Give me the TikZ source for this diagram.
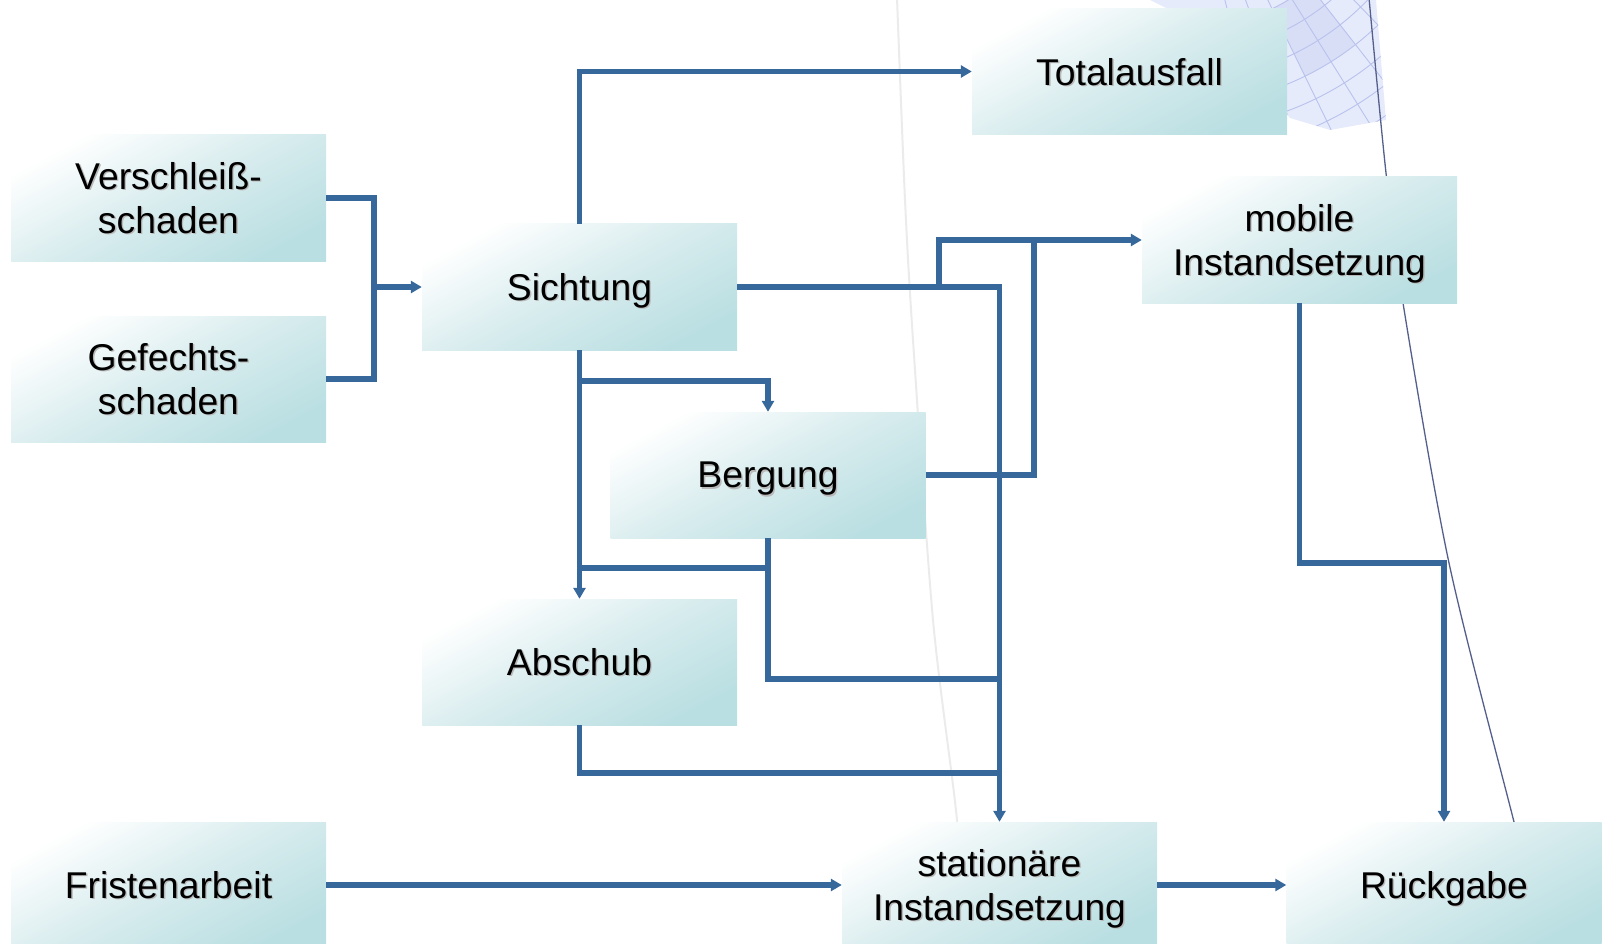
\documentclass[tikz,border=0pt]{standalone}
\usepackage{fontspec}
\setmainfont{Liberation Sans}
\usetikzlibrary{arrows.meta}

\definecolor{flowblue}{RGB}{54,104,155}
\definecolor{boxteal}{RGB}{186,223,226}
\definecolor{boxmid}{RGB}{216,236,238}
\definecolor{txtshadow}{RGB}{185,185,185}
\definecolor{rimline}{RGB}{85,95,140}
\definecolor{domefill}{RGB}{230,235,251}
\definecolor{domeline}{RGB}{184,194,237}

% text with a soft grey drop shadow
\newcommand{\shadowtxt}[1]{\rlap{\kern1.4pt\raisebox{-1.4pt}{\textcolor{txtshadow}{#1}}}#1}

\begin{document}
\begin{tikzpicture}[x=1pt,y=1pt,
  stepbox/.style={rectangle, draw=none, inner sep=0pt,
    minimum width=315pt, minimum height=126pt,
    top color=white, bottom color=boxteal, middle color=boxmid, shading angle=28,
    align=center, text depth=0pt, font=\fontsize{37.3}{44}\selectfont},
  conn/.style={draw=flowblue, line width=5.3pt},
  arr/.style={conn, -{Triangle[length=11pt,width=12pt]}}]

\path[use as bounding box] (0,-944) rectangle (1606,0);
\clip (0,-944) rectangle (1606,0);

% background: dome grid in the upper right corner
\begin{scope}
  \clip (1150,0) -- (1376,0) -- (1386,-120) -- (1330,-130) -- (1290,-118) -- (1230,-40) -- cycle;
  \fill[domefill] (1000,0) rectangle (1400,-140);
  \foreach \r in {210,235,...,385}
    \draw[domeline, line width=0.9pt] (1180,180) circle[radius=\r pt];
  \foreach \a in {-40,-46,...,-76}
    \draw[domeline, line width=0.9pt] (1180,180) -- ++(\a:420pt);
  \fill[domeline, opacity=0.3] (1180,180) -- ++(-52:285pt) arc[start angle=-52, end angle=-64, radius=285pt] -- ++(-64:-75pt) arc[start angle=-64, end angle=-52, radius=210pt] -- cycle;
\end{scope}

% background: thin sweeping lines
\draw[black!8, line width=2pt] plot[smooth] coordinates {(897,2) (905,-200) (913,-340) (933,-620) (957,-820) (965,-946)};
\draw[rimline, line width=1.3pt] plot[smooth] coordinates {(1369,2) (1386,-173) (1403,-303) (1449,-563) (1513,-818) (1546,-946)};

% process steps
\node[stepbox] (V)  at (168.5,-198)  {\shadowtxt{Verschleiß-}\\\shadowtxt{schaden}};
\node[stepbox] (G)  at (168.5,-379)  {\shadowtxt{Gefechts-}\\\shadowtxt{schaden}};
\node[stepbox] (S)  at (579.5,-287)  {\shadowtxt{Sichtung}};
\node[stepbox] (T)  at (1129.5,-71.5) {\shadowtxt{Totalausfall}};
\node[stepbox] (M)  at (1299.5,-240) {\shadowtxt{mobile}\\\shadowtxt{Instandsetzung}};
\node[stepbox] (B)  at (768,-475)    {\shadowtxt{Bergung}};
\node[stepbox] (A)  at (579.5,-662)  {\shadowtxt{Abschub}};
\node[stepbox] (F)  at (168.5,-885)  {\shadowtxt{Fristenarbeit}};
\node[stepbox] (St) at (999.5,-885)  {\shadowtxt{stationäre}\\\shadowtxt{Instandsetzung}};
\node[stepbox] (R)  at (1444,-885)   {\shadowtxt{Rückgabe}};

% junction points
\coordinate (j1) at (374,-287);
\coordinate (j1b) at (374,-379);
\coordinate (j2) at (939,-287);
\coordinate (j3) at (1034,-240);
\coordinate (j4) at (579.5,-381);
\coordinate (j5) at (579.5,-568);
\coordinate (j6) at (999.5,-679);
\coordinate (j7) at (999.5,-773);
\coordinate (j8) at (1444,-563);

% connectors
\draw[conn] (V.east) -| (j1b) -- (G.east);
\draw[arr] (j1) -- (S.west);
\draw[arr] (S.north) |- (T.west);
\draw[arr] (S.east) -| (St.north);
\draw[arr] (j2) |- (M.west);
\draw[conn] (B.east) -| (j3);
\draw[arr] (S.south) -- (A.north);
\draw[arr] (j4) -| (B.north);
\draw[conn] (B.south) |- (j5);
\draw[conn] (B.south) |- (j6);
\draw[conn] (A.south) |- (j7);
\draw[arr] (F.east) -- (St.west);
\draw[arr] (St.east) -- (R.west);
\draw[arr] (M.south) |- (j8) -- (R.north);
\end{tikzpicture}
\end{document}
